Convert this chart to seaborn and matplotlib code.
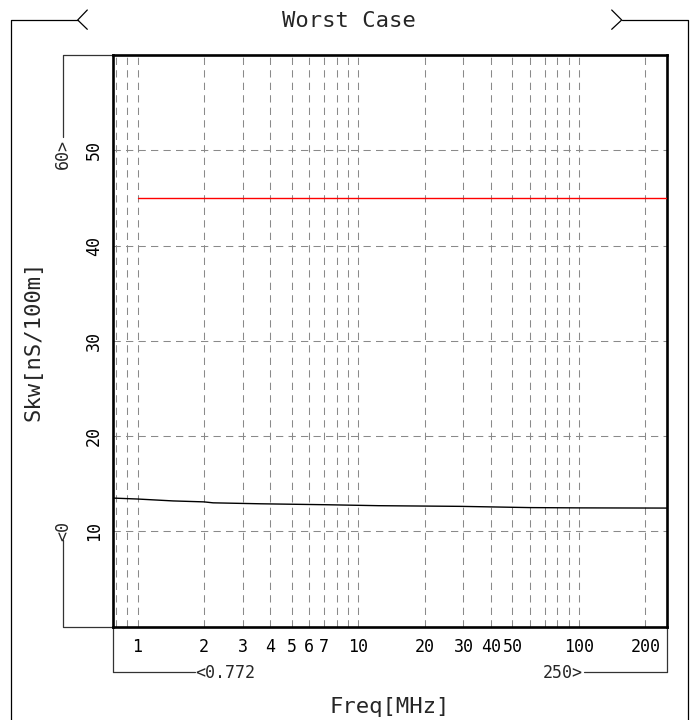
import numpy as np
import pandas as pd
import matplotlib
matplotlib.use("Agg")
import matplotlib.pyplot as plt
from matplotlib import font_manager
from matplotlib.lines import Line2D
import seaborn as sns

# Measured skew and limit line
freq_mhz = [0.772, 1.0, 1.45, 2.0, 2.2, 3.6, 7.2, 12.4, 20, 29, 60, 100, 250]
skew_ns = [13.5, 13.4, 13.2, 13.1, 13.0, 12.9, 12.8, 12.7, 12.66, 12.63, 12.5, 12.47, 12.45]
limit_freq = [1.0, 250]
limit_skew = [45, 45]

# Axis ranges and ticks
x_range = [0.772, 250]
y_range = [0, 60]
x_major = [1, 2, 3, 4, 5, 6, 7, 10, 20, 30, 40, 50, 100, 200]
x_grid = [0.8, 0.9, 1, 2, 3, 4, 5, 6, 7, 8, 9, 10, 20, 30, 40, 50, 60, 70, 80, 90, 100, 200]
y_major = [10, 20, 30, 40, 50]

title = "Worst Case"
x_label = "Freq[MHz]"
y_label = "Skw[nS/100m]"

sns.set_style("white")

available = {f.name for f in font_manager.fontManager.ttflist}
font, small, big = "DejaVu Sans Mono", 12, 16
for cand, s, b in [("Noto Sans Mono CJK JP", 14, 18.5), ("Noto Sans Mono CJK SC", 14, 18.5)]:
    if cand in available:
        font, small, big = cand, s, b
        break
plt.rcParams["font.family"] = [font, "DejaVu Sans"]

fig = plt.figure(figsize=(6.98, 7.2), dpi=100)
W, H = 698, 720
ax = fig.add_axes([112.7 / W, 1 - 626.7 / H, 554 / W, 571.7 / H])

data = pd.DataFrame({"freq": freq_mhz, "skew": skew_ns})
limit = pd.DataFrame({"freq": limit_freq, "skew": limit_skew})
sns.lineplot(data=data, x="freq", y="skew", color="black", lw=1.0, ax=ax, zorder=3)
sns.lineplot(data=limit, x="freq", y="skew", color="#ff0000", lw=1.0, ax=ax, zorder=3)

ax.set_xscale("log")
ax.set_xlim(*x_range)
ax.set_ylim(*y_range)

ax.xaxis.remove_overlapping_locs = False
ax.set_xticks(x_major)
ax.set_xticklabels([str(v) for v in x_major])
ax.set_xticks(x_grid, minor=True)
ax.set_xticklabels([], minor=True)
ax.set_yticks(y_major)
ax.set_yticklabels([str(v) for v in y_major], va="center")
ax.tick_params(axis="both", which="both", length=0, labelsize=small, colors="black")
ax.tick_params(axis="x", pad=8)
ax.tick_params(axis="y", pad=7, labelrotation=90)

grid_kw = dict(color="#8a8a8a", lw=0.75, linestyle=(0, (7, 5)))
ax.grid(False)
ax.xaxis.grid(True, which="minor", **grid_kw)
ax.yaxis.grid(True, which="major", **grid_kw)
ax.set_axisbelow(True)

for sp in ax.spines.values():
    sp.set_visible(True)
    sp.set_color("black")
    sp.set_linewidth(1.9)

ax.set_xlabel(x_label, fontsize=big, labelpad=30)
ax.set_ylabel(y_label, fontsize=big, labelpad=30)
fig.text(0.5, 1 - 21 / H, title, fontsize=big, ha="center", va="center")

# Range brackets on the axes
thin = dict(color="#333333", lw=0.9, clip_on=False)
ytr = ax.get_yaxis_transform()
xtr = ax.get_xaxis_transform()
bx = -0.0897
ax.plot([0, bx, bx], [y_range[1], y_range[1], 51.4], transform=ytr, **thin)
ax.text(bx, 49.6, f"{y_range[1]}>", transform=ytr, rotation=90, ha="center", va="center",
        fontsize=small)
ax.plot([0, bx, bx], [y_range[0], y_range[0], 9.1], transform=ytr, **thin)
ax.text(bx, 10.05, f"<{y_range[0]}", transform=ytr, rotation=90, ha="center", va="center",
        fontsize=small)

by = -0.0787
ax.plot([x_range[0], x_range[0]], [0, by], transform=xtr, **thin)
ax.plot([0, 0.1486], [by, by], transform=ax.transAxes, **thin)
ax.text(0.1486, by - 0.002, f"<{x_range[0]}", transform=ax.transAxes, ha="left", va="center",
        fontsize=small)
ax.plot([x_range[1], x_range[1]], [0, by], transform=xtr, **thin)
ax.plot([0.851, 1.0], [by, by], transform=ax.transAxes, **thin)
ax.text(0.849, by - 0.002, f"{x_range[1]}>", transform=ax.transAxes, ha="right", va="center",
        fontsize=small)

# Outer frame with chevrons around the title
def fig_line(xs, ys):
    fig.add_artist(Line2D([x / W for x in xs], [1 - y / H for y in ys],
                          transform=fig.transFigure, color="black", lw=0.9))

fig_line([11, 11, 77.7], [720, 20, 20])
fig_line([87.3, 77.7, 87.3], [10, 20, 29.3])
fig_line([688.3, 688.3, 621.7], [720, 20, 20])
fig_line([611.7, 621.7, 611.7], [10, 20, 29.3])

fig.savefig("out.png", dpi=100)
